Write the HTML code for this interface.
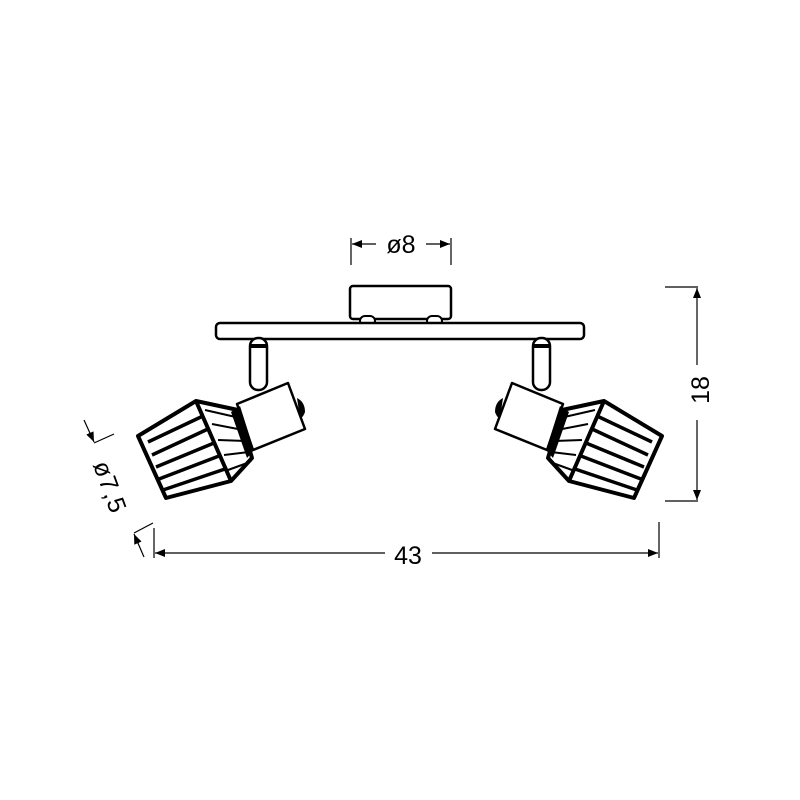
<!DOCTYPE html>
<html><head><style>html,body{margin:0;background:#fff}svg{display:block}</style></head>
<body>
<svg width="800" height="800" viewBox="0 0 800 800" xmlns="http://www.w3.org/2000/svg" font-family="Liberation Sans, sans-serif">
<defs>
<marker id="a" viewBox="0 0 10 10" refX="10" refY="5" markerWidth="10" markerHeight="10" markerUnits="userSpaceOnUse" orient="auto"><path d="M0,1 L10,5 L0,9z" fill="#000"/></marker>
<g id="lamp">
  <rect x="250" y="338" width="17" height="52" rx="8" fill="#fff" stroke="#000" stroke-width="2.5"/>
  <line x1="251" y1="346" x2="266" y2="346" stroke="#000" stroke-width="4"/>
  <polygon points="237,404 288,383 305,429 253,450" fill="#fff" stroke="#000" stroke-width="2.5" stroke-linejoin="round"/>
  <path d="M297,398 q8,4 8,14 q-2,6 -5,6" fill="#000"/>
  <polygon points="138,436 196,401 238,410 252,458 231,481 166,498" fill="#fff" stroke="#000" stroke-width="4" stroke-linejoin="round"/>
  <path d="M196,401 L231,481" stroke="#000" stroke-width="4"/>
  <g stroke="#000" stroke-width="3.5">
    <line x1="148" y1="442" x2="203" y2="416"/>
    <line x1="152" y1="455" x2="208" y2="429"/>
    <line x1="156" y1="467" x2="214" y2="443"/>
    <line x1="159" y1="479" x2="219" y2="456"/>
    <line x1="163" y1="490" x2="225" y2="469"/>
  </g>
  <g stroke="#000" stroke-width="2">
    <line x1="205" y1="410" x2="240" y2="418"/>
    <line x1="212" y1="424" x2="243" y2="430"/>
    <line x1="218" y1="440" x2="246" y2="441"/>
    <line x1="224" y1="455" x2="249" y2="452"/>
    <line x1="228" y1="470" x2="250" y2="462"/>
  </g>
  <polygon points="231,412 240,406 254,450 247,458" fill="#000"/>
</g>
</defs>
<rect x="350" y="286" width="101" height="33" rx="3" fill="#fff" stroke="#000" stroke-width="2.5"/>
<rect x="360" y="316" width="15" height="10" rx="5" fill="#fff" stroke="#000" stroke-width="2"/>
<rect x="427" y="316" width="15" height="10" rx="5" fill="#fff" stroke="#000" stroke-width="2"/>
<rect x="216" y="323" width="368" height="16" rx="4" fill="#fff" stroke="#000" stroke-width="2.5"/>
<use href="#lamp"/>
<use href="#lamp" transform="translate(800,0) scale(-1,1)"/>
<g stroke="#000" stroke-width="1.2" fill="none">
  <line x1="351" y1="238" x2="351" y2="265"/>
  <line x1="451" y1="238" x2="451" y2="265"/>
  <line x1="376" y1="244" x2="352" y2="244" marker-end="url(#a)"/>
  <line x1="426" y1="244" x2="450" y2="244" marker-end="url(#a)"/>
  <line x1="665" y1="287" x2="698" y2="287"/>
  <line x1="665" y1="501" x2="698" y2="501"/>
  <line x1="697" y1="365" x2="697" y2="288" marker-end="url(#a)"/>
  <line x1="697" y1="420" x2="697" y2="500" marker-end="url(#a)"/>
  <line x1="154" y1="528" x2="154" y2="558"/>
  <line x1="659" y1="522" x2="659" y2="558"/>
  <line x1="385" y1="553" x2="155" y2="553" marker-end="url(#a)"/>
  <line x1="432" y1="553" x2="658" y2="553" marker-end="url(#a)"/>
  <line x1="84" y1="420" x2="94" y2="442" marker-end="url(#a)"/>
  <line x1="94" y1="443" x2="114" y2="434"/>
  <line x1="144" y1="557" x2="134" y2="534" marker-end="url(#a)"/>
  <line x1="134" y1="533" x2="153" y2="523"/>
</g>
<g font-size="25" fill="#000">
  <text x="401" y="253" text-anchor="middle">ø8</text>
  <text x="408" y="564" text-anchor="middle">43</text>
  <text transform="translate(709,390) rotate(-90)" text-anchor="middle">18</text>
  <text transform="translate(102,490) rotate(70)" text-anchor="middle" letter-spacing="1">ø7,5</text>
</g>
</svg>
</body></html>
